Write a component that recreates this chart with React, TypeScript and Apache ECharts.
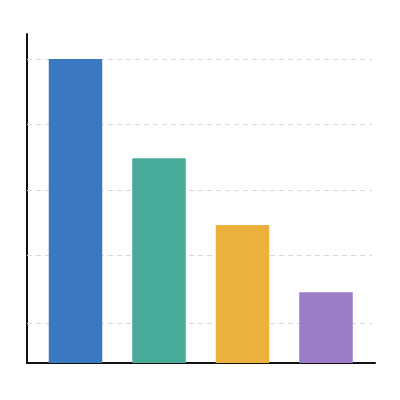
import React, { useEffect, useRef } from "react";
import * as echarts from "echarts";

const categories = ["A", "B", "C", "D"];
const values = [100, 67.3, 45.4, 23.3];
const barColors = ["#3a78c0", "#48ab99", "#ecb03f", "#9b7cc6"];
const gridValues = [13.2, 35.5, 56.9, 78.6, 100];
const yMax = 108.2;

export default function App() {
  const ref = useRef<HTMLDivElement>(null);
  useEffect(() => {
    const chart = echarts.init(ref.current!, null, { renderer: "svg" });
    const hiddenAxis = {
      show: false,
    };
    chart.setOption({
      animation: false,
      backgroundColor: "#ffffff",
      grid: [
        { left: 27, right: 25, top: 34, bottom: 37 },
        { left: 33.75, right: 32.25, top: 34, bottom: 37 },
        { left: 27, right: 28, top: 34, bottom: 37 },
      ],
      xAxis: [
        {
          type: "category",
          gridIndex: 0,
          data: categories,
          axisLine: { show: true, lineStyle: { color: "#111111", width: 2 } },
          axisTick: { show: false },
          axisLabel: { show: false },
          splitLine: { show: false },
        },
        { type: "category", gridIndex: 1, data: categories, ...hiddenAxis },
        { type: "category", gridIndex: 2, data: categories, ...hiddenAxis },
      ],
      yAxis: [
        {
          type: "value",
          gridIndex: 0,
          min: 0,
          max: yMax,
          axisLine: { show: true, lineStyle: { color: "#111111", width: 2 } },
          axisTick: { show: false },
          axisLabel: { show: false },
          splitLine: { show: false },
        },
        { type: "value", gridIndex: 1, min: 0, max: yMax, ...hiddenAxis },
        { type: "value", gridIndex: 2, min: 0, max: yMax, ...hiddenAxis },
      ],
      series: [
        {
          type: "line",
          xAxisIndex: 2,
          yAxisIndex: 2,
          data: [],
          silent: true,
          z: 1,
          markLine: {
            silent: true,
            symbol: ["none", "none"],
            label: { show: false },
            z: 1,
            lineStyle: { color: "#d9d9d9", width: 1, type: [5, 4] },
            data: gridValues.map((v) => ({ yAxis: v })),
          },
        },
        {
          type: "bar",
          xAxisIndex: 1,
          yAxisIndex: 1,
          barWidth: 53.5,
          z: 3,
          data: values.map((v, i) => ({ value: v, itemStyle: { color: barColors[i] } })),
        },
      ],
    });
    return () => chart.dispose();
  }, []);
  return (
    <div
      ref={ref}
      style={{ position: "fixed", left: 0, top: 0, width: 400, height: 400 }}
    />
  );
}
